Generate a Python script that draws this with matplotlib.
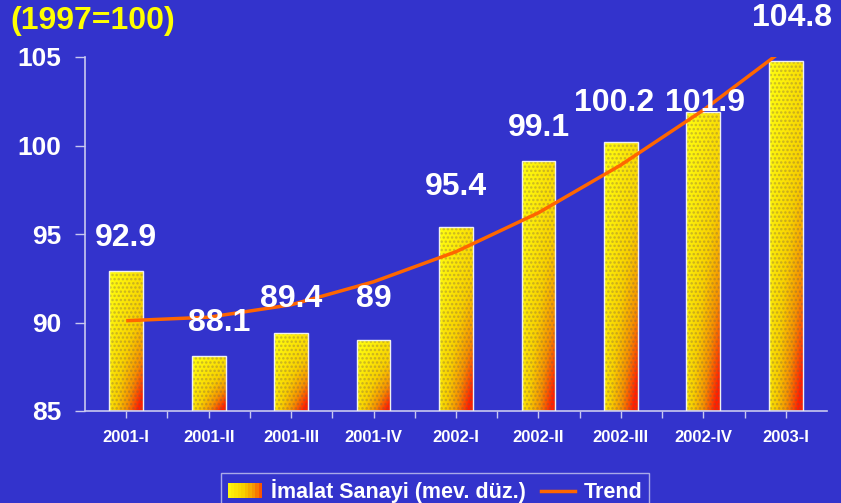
import numpy as np
import matplotlib
matplotlib.use("Agg")
from matplotlib import pyplot as plt
from matplotlib.patches import Rectangle
from matplotlib.colors import LinearSegmentedColormap
from matplotlib.legend_handler import HandlerBase

plt.rcParams['font.family'] = ['Liberation Sans', 'DejaVu Sans']
plt.rcParams['font.weight'] = 'bold'
plt.rcParams['hatch.linewidth'] = 1.2

# data
quarters = ["2001-I", "2001-II", "2001-III", "2001-IV", "2002-I",
            "2002-II", "2002-III", "2002-IV", "2003-I"]
imalat = [92.9, 88.1, 89.4, 89.0, 95.4, 99.1, 100.2, 101.9, 104.8]
trend = [90.1, 90.3, 91.0, 92.3, 94.0, 96.2, 98.9, 102.0, 105.5]
labels = ["92.9", "88.1", "89.4", "89", "95.4", "99.1", "100.2", "101.9", "104.8"]

# label offsets in pixels (dx, dy above bar top)
lab_dx = [0, 11, 0, 0, 0, 0, -7, 2, 6]
lab_dy = [33, 33, 34, 41, 40, 33, 39, 9, 43]

bg = '#3333CC'
axis_col = '#C8C8F0'
grad = LinearSegmentedColormap.from_list(
    'g', [(0, '#FFFF10'), (0.45, '#F8D000'), (0.72, '#F59000'), (1, '#FF2000')])

fig = plt.figure(figsize=(8.41, 5.03), dpi=100, facecolor=bg)
ax = fig.add_axes([85/841, 1-411/503, 742/841, 354/503], facecolor=bg)

x = np.arange(len(quarters))
w = 0.41
bars = ax.bar(x, imalat, width=w, bottom=0, color='none', edgecolor='none', zorder=2)

u = np.linspace(0, 1, 60)
vv = np.linspace(1, 0, 200)
U, V = np.meshgrid(u, vv)
T = 0.32*U + 0.3*(1-V) + 0.5*U*(1-V)**1.5
T = np.clip(T, 0, 1)
T[:, :4] *= 0.5
for b in bars:
    x0, h = b.get_x(), b.get_height()
    im = ax.imshow(T, cmap=grad, vmin=0, vmax=1, aspect='auto',
                   extent=[x0, x0+w, 85, h], zorder=2)
    r = Rectangle((x0, 85), w, h-85, facecolor='none', edgecolor='none')
    ax.add_patch(r)
    im.set_clip_path(r)
    ax.add_patch(Rectangle((x0, 85), w, h-85, facecolor='none',
                           edgecolor=(0.45, 0.35, 0.3, 0.35), hatch='....', lw=0, zorder=3))
    ax.add_patch(Rectangle((x0, 85), w, h-85, facecolor='none',
                           edgecolor='#F0F0F0', lw=1.0, zorder=4))

ax.plot(x, trend, color='#FF6600', lw=2.5, zorder=5, solid_capstyle='butt')

for i, (xi, v) in enumerate(zip(x, imalat)):
    ax.annotate(labels[i], (xi, v), xytext=(lab_dx[i]*0.72, lab_dy[i]*0.72),
                textcoords='offset points', ha='center', va='center',
                color='white', fontsize=23, fontweight='bold', zorder=6,
                annotation_clip=False)

ax.set_xlim(-0.5, len(quarters)-0.5)
ax.set_ylim(85, 105)
ax.set_yticks([85, 90, 95, 100, 105])
ax.tick_params(axis='y', colors=axis_col, length=7, width=1, direction='out',
               labelcolor='white', labelsize=19, pad=10)
ax.set_xticks(x)
ax.set_xticklabels(quarters)
ax.set_xticks(x[:-1]+0.5, minor=True)
ax.tick_params(axis='x', which='both', colors=axis_col, length=5, width=1,
               direction='out', labelcolor='white', labelsize=12, pad=9)
for s in ['top', 'right']:
    ax.spines[s].set_visible(False)
for s in ['left', 'bottom']:
    ax.spines[s].set_color(axis_col)
    ax.spines[s].set_linewidth(1.2)

fig.text(10/841, 1-21/503, "(1997=100)", color='#FFFF00', fontsize=23,
         fontweight='bold', ha='left', va='center')


class GradHandler(HandlerBase):
    def create_artists(self, legend, orig, xd, yd, width, height, fontsize, trans):
        arts = []
        n = 10
        for k in range(n):
            arts.append(Rectangle((xd + width*k/n, yd), width/n, height,
                                  facecolor=grad(0.1 + 0.85*k/n), edgecolor='none',
                                  transform=trans))
        return arts


proxy = Rectangle((0, 0), 1, 1)
line, = ax.plot([], [], color='#FF6600', lw=2.5)
leg = fig.legend([proxy, line], ["İmalat Sanayi (mev. düz.)", "Trend"],
                 handler_map={Rectangle: GradHandler()},
                 loc='upper center', bbox_to_anchor=(435/841, 1-462/503),
                 ncol=2, frameon=True, fancybox=False, facecolor=bg,
                 edgecolor=axis_col, fontsize=15.5, labelcolor='white',
                 handlelength=1.6, handletextpad=0.4, columnspacing=0.7,
                 borderpad=0.3)
leg.get_frame().set_linewidth(1.0)

fig.savefig("out.png", dpi=100, facecolor=bg)
